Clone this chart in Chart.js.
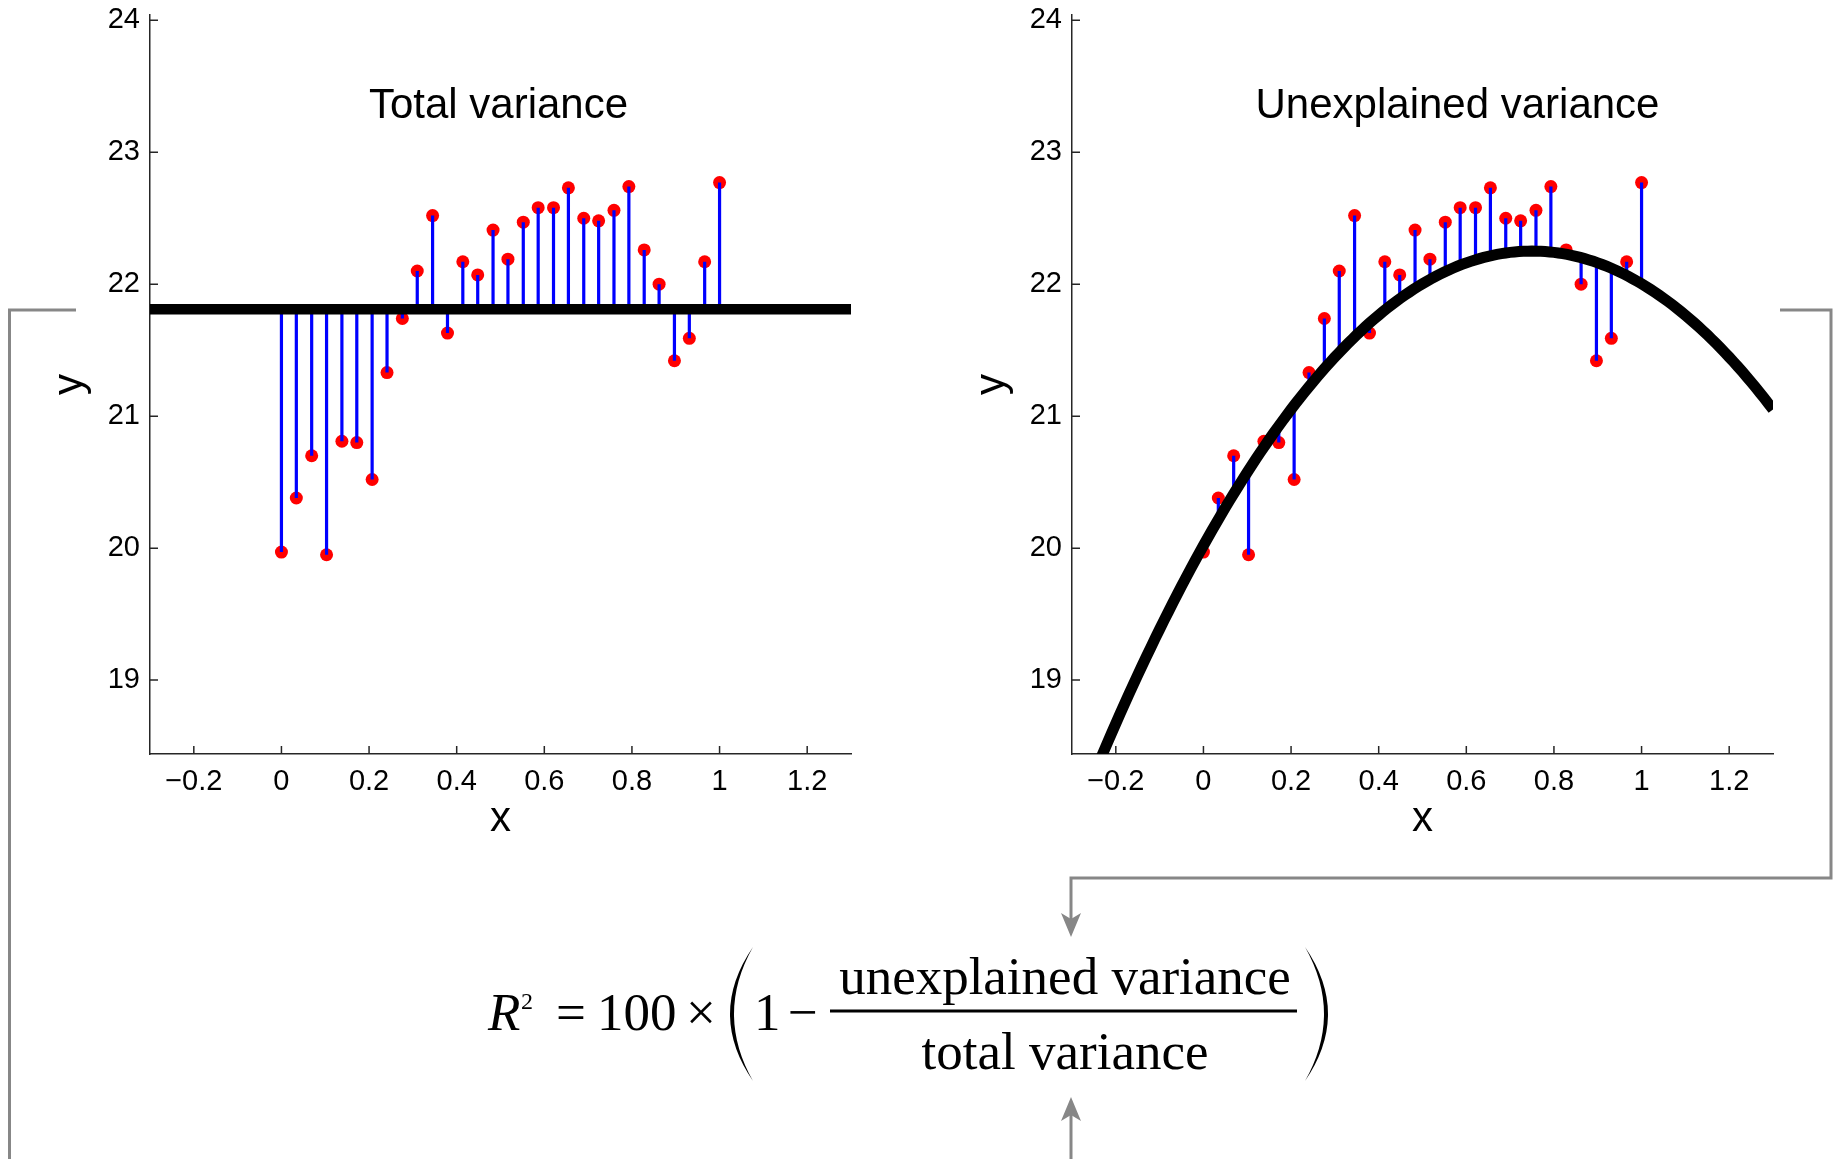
<!DOCTYPE html>
<html>
<head>
<meta charset="utf-8">
<title>R squared: total vs unexplained variance</title>
<script src="https://cdn.jsdelivr.net/npm/chart.js@4.4.1/dist/chart.umd.min.js"></script>
<style>
  html, body { margin: 0; padding: 0; background: #fff; overflow: hidden; }
  #page { position: relative; width: 1839px; height: 1159px; }
  canvas { position: absolute; top: 0; }
  #cTotal { left: 0; }
  #cUnexpl { left: 922px; }
  #overlay { position: absolute; left: 0; top: 0; }
</style>
</head>
<body>
<div id="page">
  <canvas id="cTotal" width="880" height="860"></canvas>
  <canvas id="cUnexpl" width="880" height="860"></canvas>

  <svg id="overlay" width="1839" height="1159" xmlns="http://www.w3.org/2000/svg">
    <!-- connectors -->
    <g fill="none" stroke="#878787" stroke-width="3">
      <polyline points="76,310 9.5,310 9.5,1165" />
      <line x1="1071" y1="1165" x2="1071" y2="1114" />
      <polyline points="1780,310 1831,310 1831,878 1071,878 1071,920" />
    </g>
    <g fill="#878787">
      <polygon points="1071,937 1061,913 1071,919 1081,913" />
      <polygon points="1071,1097 1061,1121 1071,1115 1081,1121" />
    </g>

    <!-- formula -->
    <g font-family="'Liberation Serif', 'Times New Roman', serif" fill="#000">
      <text x="488" y="1030" font-size="53" font-style="italic">R</text>
      <text x="521" y="1009" font-size="24">2</text>
      <text x="556" y="1030" font-size="53">=</text>
      <text x="597" y="1030" font-size="53">100</text>
      <text x="686" y="1030" font-size="53">×</text>
      <text x="754" y="1030" font-size="53">1</text>
      <text x="788" y="1030" font-size="53">−</text>
      <text x="1065" y="994" font-size="53" text-anchor="middle">unexplained variance</text>
      <text x="1065" y="1069" font-size="53" text-anchor="middle">total variance</text>
    </g>
    <line x1="830" y1="1011" x2="1297" y2="1011" stroke="#000" stroke-width="3" />
    <path d="M753,947 Q707,1014 753,1081 Q715,1014 753,947 Z" fill="#000" />
    <path d="M1305,947 Q1351,1014 1305,1081 Q1343,1014 1305,947 Z" fill="#000" />
  </svg>
</div>

<script>
// observations: x positions and measured y
const xValues = [0, 0.034, 0.069, 0.103, 0.138, 0.172, 0.207, 0.241, 0.276, 0.310,
                 0.345, 0.379, 0.414, 0.448, 0.483, 0.517, 0.552, 0.586, 0.621, 0.655,
                 0.690, 0.724, 0.759, 0.793, 0.828, 0.862, 0.897, 0.931, 0.966, 1];
const yValues = [19.97, 20.38, 20.70, 19.95, 20.81, 20.80, 20.52, 21.33, 21.74, 22.10,
                 22.52, 21.63, 22.17, 22.07, 22.41, 22.19, 22.47, 22.58, 22.58, 22.73,
                 22.50, 22.48, 22.56, 22.74, 22.26, 22.00, 21.42, 21.59, 22.17, 22.77];

// horizontal line = mean of y
const meanY = 21.81;
// quadratic fit: a + b*x + c*x^2
const fitCoeffs = [20.02, 5.95, -3.967];

const xRange = [-0.3, 1.3];
const yRange = [18.44, 24.04];
const xTicks = [-0.2, 0, 0.2, 0.4, 0.6, 0.8, 1, 1.2];
const yTicks = [19, 20, 21, 22, 23, 24];

const AXIS = '#262626';
const BLUE = '#0000ff';
const RED = '#ff0000';

Chart.defaults.font.family = "'Liberation Sans', Arial, Helvetica, sans-serif";
Chart.defaults.color = '#000';

function fitAt(x) {
  return fitCoeffs[0] + fitCoeffs[1] * x + fitCoeffs[2] * x * x;
}

function fmtTick(v) {
  return v < 0 ? '\u2212' + Math.abs(v) : String(v);
}

// MATLAB style ticks pointing into the plot
const inwardTicks = {
  id: 'inwardTicks',
  beforeDatasetsDraw(chart) {
    const {ctx, chartArea, scales} = chart;
    ctx.save();
    ctx.strokeStyle = AXIS;
    ctx.lineWidth = 1.5;
    ctx.beginPath();
    scales.x.ticks.forEach(t => {
      const p = scales.x.getPixelForValue(t.value);
      ctx.moveTo(p, chartArea.bottom);
      ctx.lineTo(p, chartArea.bottom - 8);
    });
    scales.y.ticks.forEach(t => {
      const p = scales.y.getPixelForValue(t.value);
      ctx.moveTo(chartArea.left, p);
      ctx.lineTo(chartArea.left + 8, p);
    });
    ctx.stroke();
    ctx.restore();
  }
};

// title sits inside the axes, like the original
const insideTitle = {
  id: 'insideTitle',
  afterDraw(chart, args, opts) {
    const {ctx, chartArea} = chart;
    ctx.save();
    ctx.font = "42px 'Liberation Sans', Arial, Helvetica, sans-serif";
    ctx.fillStyle = '#000';
    ctx.textAlign = 'center';
    ctx.textBaseline = 'alphabetic';
    ctx.fillText(opts.text, (chartArea.left + chartArea.right) / 2 + opts.dx, chartArea.top + opts.baseline);
    ctx.restore();
  }
};

function axes() {
  return {
    x: {
      type: 'linear',
      min: xRange[0],
      max: xRange[1],
      afterBuildTicks: s => { s.ticks = xTicks.map(v => ({ value: v })); },
      afterFit: s => { s.height = 100; s.paddingLeft = 0; s.paddingRight = 0; },
      grid: { display: false, drawTicks: false },
      border: { display: true, color: AXIS, width: 1.5 },
      ticks: { padding: 11, autoSkip: false, maxRotation: 0, font: { size: 29 }, callback: fmtTick },
      title: { display: true, text: 'x', font: { size: 42 }, padding: { top: 0, bottom: 9 } }
    },
    y: {
      type: 'linear',
      min: yRange[0],
      max: yRange[1],
      afterBuildTicks: s => { s.ticks = yTicks.map(v => ({ value: v })); },
      afterFit: s => { s.width = 150; s.paddingTop = 0; s.paddingBottom = 0; },
      grid: { display: false, drawTicks: false },
      border: { display: true, color: AXIS, width: 1.5 },
      ticks: { padding: 10, autoSkip: false, font: { size: 29 }, callback: fmtTick },
      title: { display: true, text: 'y', font: { size: 42 }, padding: { top: 45, bottom: 0 } }
    }
  };
}

function baseOptions(titleText, dx) {
  return {
    responsive: false,
    animation: false,
    events: [],
    layout: { padding: { left: 0, top: 15, right: 29, bottom: 6 } },
    scales: axes(),
    plugins: {
      legend: { display: false },
      tooltip: { enabled: false },
      insideTitle: { text: titleText, dx: dx, baseline: 103 }
    }
  };
}

const points = xValues.map((x, i) => ({ x, y: yValues[i] }));

// left panel: deviations from the mean
const totalStems = [];
xValues.forEach((x, i) => {
  totalStems.push({ x, y: meanY }, { x, y: yValues[i] }, { x, y: null });
});

new Chart(document.getElementById('cTotal'), {
  type: 'scatter',
  data: {
    datasets: [
      { label: 'mean', data: [{ x: xRange[0], y: meanY }, { x: xRange[1], y: meanY }],
        showLine: true, borderColor: '#000', borderWidth: 10.5, pointRadius: 0, clip: 0, order: 1 },
      { label: 'deviation', data: totalStems, showLine: true, spanGaps: false,
        borderColor: BLUE, borderWidth: 3.2, pointRadius: 0, order: 2 },
      { label: 'data', data: points, showLine: false, pointRadius: 6.5,
        pointBackgroundColor: RED, pointBorderWidth: 0, order: 3 }
    ]
  },
  options: baseOptions('Total variance', -2),
  plugins: [inwardTicks, insideTitle]
});

// right panel: residuals from the quadratic fit
const fitCurve = [];
for (let k = 0; k <= 160; k++) {
  const x = xRange[0] + k * 0.01;
  fitCurve.push({ x, y: fitAt(x) });
}
const residStems = [];
xValues.forEach((x, i) => {
  residStems.push({ x, y: fitAt(x) }, { x, y: yValues[i] }, { x, y: null });
});

new Chart(document.getElementById('cUnexpl'), {
  type: 'scatter',
  data: {
    datasets: [
      { label: 'fit', data: fitCurve, showLine: true, borderColor: '#000', borderWidth: 11,
        pointRadius: 0, tension: 0, clip: 0, order: 1 },
      { label: 'residual', data: residStems, showLine: true, spanGaps: false,
        borderColor: BLUE, borderWidth: 3.2, pointRadius: 0, order: 2 },
      { label: 'data', data: points, showLine: false, pointRadius: 6.5,
        pointBackgroundColor: RED, pointBorderWidth: 0, order: 3 }
    ]
  },
  options: baseOptions('Unexplained variance', 35),
  plugins: [inwardTicks, insideTitle]
});
</script>
</body>
</html>
